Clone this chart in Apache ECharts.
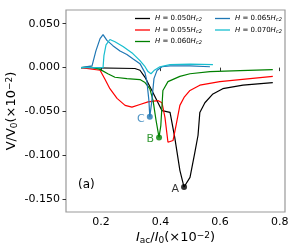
<!DOCTYPE html>
<html>
<head>
<meta charset="utf-8">
<script src="https://cdn.jsdelivr.net/npm/echarts@6/dist/echarts.min.js"></script>
<style>html,body{margin:0;padding:0;background:#fff}#c{width:300px;height:250px}</style>
</head>
<body>
<div id="c"></div>
<script>
// Data (x: I_ac/I_0 ×1e-2, y: V/V_0 ×1e-2)
const fieldLabels = ['0.050', '0.055', '0.060', '0.065', '0.070'];
const x050 = [0.133, 0.314, 0.331, 0.348, 0.371, 0.405, 0.432, 0.448, 0.465, 0.479, 0.499, 0.515, 0.526, 0.532, 0.549, 0.576, 0.609, 0.677, 0.777];
const y050 = [0.000, -0.001, -0.003, -0.011, -0.026, -0.049, -0.051, -0.080, -0.117, -0.136, -0.125, -0.097, -0.077, -0.051, -0.040, -0.030, -0.024, -0.020, -0.017];
const x055 = [0.133, 0.197, 0.213, 0.230, 0.254, 0.281, 0.304, 0.331, 0.358, 0.391, 0.405, 0.415, 0.425, 0.442, 0.452, 0.465, 0.479, 0.499, 0.532, 0.599, 0.777];
const y055 = [0.000, -0.003, -0.013, -0.024, -0.035, -0.043, -0.045, -0.042, -0.039, -0.0375, -0.040, -0.057, -0.085, -0.083, -0.066, -0.043, -0.034, -0.026, -0.020, -0.016, -0.010];
const x060 = [0.133, 0.163, 0.197, 0.223, 0.247, 0.287, 0.331, 0.348, 0.364, 0.375, 0.385, 0.395, 0.401, 0.408, 0.425, 0.465, 0.499, 0.566, 0.667, 0.777];
const y060 = [0.000, 0.001, -0.002, -0.007, -0.011, -0.0125, -0.0136, -0.017, -0.024, -0.0375, -0.060, -0.0795, -0.066, -0.026, -0.016, -0.010, -0.007, -0.0045, -0.0034, -0.0023];
const x065 = [0.133, 0.170, 0.183, 0.197, 0.207, 0.220, 0.240, 0.264, 0.287, 0.307, 0.331, 0.348, 0.354, 0.361, 0.364, 0.371, 0.378, 0.388, 0.405, 0.432, 0.499, 0.566];
const y065 = [0.000, 0.002, 0.019, 0.033, 0.0375, 0.031, 0.025, 0.019, 0.015, 0.010, 0.0045, -0.006, -0.015, -0.0375, -0.056, -0.0375, -0.0125, -0.0034, 0.001, 0.002, 0.002, 0.001];
const x070 = [0.133, 0.207, 0.210, 0.217, 0.230, 0.247, 0.274, 0.307, 0.331, 0.348, 0.358, 0.368, 0.378, 0.398, 0.432, 0.499, 0.576];
const y070 = [0.000, 0.000, 0.0136, 0.026, 0.032, 0.0295, 0.024, 0.016, 0.008, 0.001, -0.0045, -0.007, -0.0034, 0.001, 0.0034, 0.004, 0.0034];
const markerLabels = ['A', 'B', 'C'];
const markerX = [0.479, 0.395, 0.364];
const markerY = [-0.136, -0.0795, -0.056];
const yTicks = [-0.15, -0.10, -0.05, 0.00, 0.05];
const xTicks = [0.2, 0.4, 0.6, 0.8];

const colors = ['#000000', '#ff0000', '#008000', '#1f77b4', '#17becf'];
const xs = [x050, x055, x060, x065, x070];
const ys = [y050, y055, y060, y065, y070];
const markerColors = ['#000000', '#008000', '#1f77b4'];

const zip = (a, b) => a.map((v, i) => [v, b[i]]);
const FONT = 'DejaVu Sans';

const series = fieldLabels.map((f, i) => ({
  name: f,
  type: 'line',
  data: zip(xs[i], ys[i]),
  showSymbol: false,
  symbol: 'none',
  lineStyle: { color: colors[i], width: 1.2 },
  itemStyle: { color: colors[i] },
  animation: false,
  z: 2
}));
series.push({
  type: 'scatter',
  data: markerX.map((x, i) => ({
    value: [x, markerY[i]],
    itemStyle: { color: markerColors[i] },
    label: { show: true, formatter: markerLabels[i], position: 'left', distance: 2, color: markerColors[i], fontSize: 11, fontFamily: FONT, offset: [0, 2] }
  })),
  symbolSize: 6,
  animation: false,
  z: 5
});

const legendRich = {
  i: { fontStyle: 'italic', fontSize: 7, fontFamily: FONT, color: '#000' },
  n: { fontSize: 7, fontFamily: FONT, color: '#000' },
  s: { fontStyle: 'italic', fontSize: 5, fontFamily: FONT, color: '#000', verticalAlign: 'bottom', padding: [3, 0, 0, 0] }
};
const legendFmt = name => '{i|H}{n| = ' + name + '}{i|H}{s|c2}';
const legendBase = {
  orient: 'vertical',
  icon: 'rect',
  itemWidth: 15,
  itemHeight: 1.3,
  itemGap: 4,
  padding: 0,
  formatter: legendFmt,
  textStyle: { rich: legendRich, fontSize: 7, fontFamily: FONT, padding: [0, 0, 0, 0] },
  selectedMode: false
};

const nameRich = {
  i: { fontStyle: 'italic', fontSize: 13, fontFamily: FONT, color: '#000' },
  n: { fontSize: 13, fontFamily: FONT, color: '#000' },
  s: { fontSize: 9, fontFamily: FONT, color: '#000', verticalAlign: 'bottom', padding: [5, 0, 0, 0] },
  p: { fontSize: 9, fontFamily: FONT, color: '#000', verticalAlign: 'top', padding: [0, 0, 5, 0] }
};

const chart = echarts.init(document.getElementById('c'), null, { renderer: 'canvas' });
chart.setOption({
  animation: false,
  backgroundColor: '#fff',
  grid: { left: 66, top: 10, right: 15, bottom: 38, show: true, borderColor: '#999', borderWidth: 1.2, backgroundColor: 'transparent', containLabel: false, outerBoundsMode: 'none' },
  legend: [
    Object.assign({}, legendBase, { data: fieldLabels.slice(0, 3), left: 135, top: 15 }),
    Object.assign({}, legendBase, { data: fieldLabels.slice(3), left: 215, top: 15 })
  ],
  xAxis: {
    type: 'value', min: 0.0826, max: 0.818,
    splitLine: { show: false },
    axisLine: { show: false },
    axisTick: { show: true, customValues: xTicks, length: 3.5, lineStyle: { color: '#333', width: 1 } },
    axisLabel: { customValues: xTicks, formatter: v => v.toFixed(1), fontSize: 11, fontFamily: FONT, color: '#000', margin: 5 },
    name: '{i|I}{s|ac}{n|/}{i|I}{s|0}{n|(×10}{p|−2}{n|)}',
    nameLocation: 'middle', nameGap: 19, nameMoveOverlap: false,
    nameTextStyle: { rich: nameRich }
  },
  yAxis: {
    type: 'value', min: -0.1644, max: 0.0656,
    splitLine: { show: false },
    axisLine: { show: false },
    axisTick: { show: true, customValues: yTicks, length: 3.5, lineStyle: { color: '#333', width: 1 } },
    axisLabel: { customValues: yTicks, formatter: v => (Math.abs(v) < 1e-9 ? '0.000' : v.toFixed(3)), fontSize: 11, fontFamily: FONT, color: '#000', margin: 6 },
    name: '{n|V/V}{s|0}{n|(×10}{p|−2}{n|)}',
    nameLocation: 'middle', nameGap: 47, nameRotate: 90, nameMoveOverlap: false,
    nameTextStyle: { rich: nameRich }
  },
  graphic: [
    { type: 'text', left: 78, top: 179, style: { text: '(a)', fontSize: 12, fontFamily: FONT, fill: '#000' } }
  ],
  series: series
});
</script>
</body>
</html>
